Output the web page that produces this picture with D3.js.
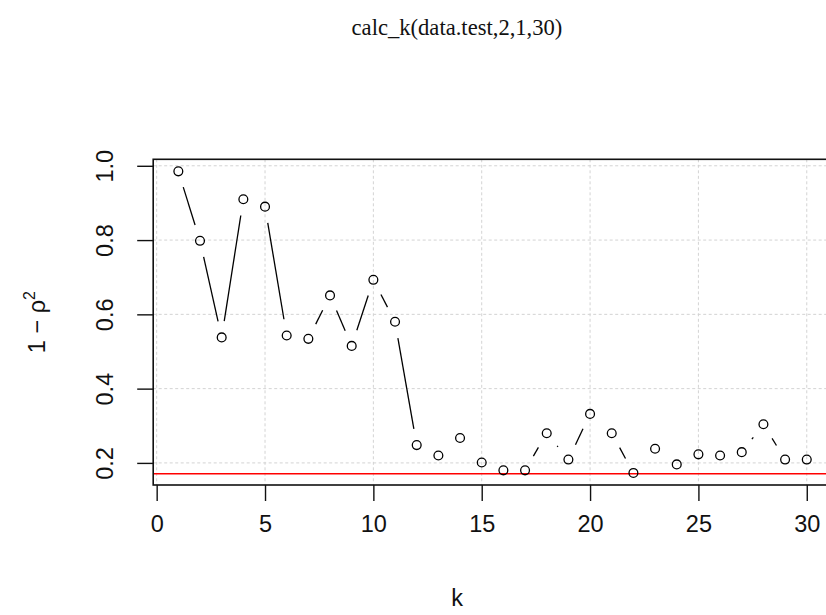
<!DOCTYPE html>
<html>
<head>
<meta charset="utf-8">
<script src="https://cdn.jsdelivr.net/npm/d3@7"></script>
<style>
  body { margin: 0; background: #fff; }
  svg { display: block; }
</style>
</head>
<body>
<svg id="chart" width="826" height="615"></svg>
<script>
// values (k = 1..30)
var ks = [1, 2, 3, 4, 5, 6, 7, 8, 9, 10, 11, 12, 13, 14, 15,
          16, 17, 18, 19, 20, 21, 22, 23, 24, 25, 26, 27, 28, 29, 30];
var values = [0.985, 0.798, 0.538, 0.910, 0.890, 0.543, 0.534, 0.651, 0.515, 0.693,
              0.580, 0.248, 0.220, 0.267, 0.201, 0.180, 0.180, 0.280, 0.209, 0.332,
              0.280, 0.173, 0.238, 0.196, 0.223, 0.220, 0.229, 0.304, 0.209, 0.209];
var refLine = 0.171;
var xTicks = [0, 5, 10, 15, 20, 25, 30];
var yTicks = [0.2, 0.4, 0.6, 0.8, 1.0];
var title = "calc_k(data.test,2,1,30)";

(function () {
    var svg = d3.select("#chart");
    var pLeft = 153.2, pRight = 831.9, pTop = 159.3, pBottom = 485;
    var sans = "'Liberation Sans', Arial, sans-serif";

    // R style 4% range extension
    function extend(lo, hi) {
        var d = (hi - lo) * 0.04;
        return [lo - d, hi + d];
    }
    var x = d3.scaleLinear().domain(extend(d3.min(ks), d3.max(ks))).range([pLeft, pRight]);
    var y = d3.scaleLinear().domain(extend(d3.min(values), d3.max(values))).range([pBottom, pTop]);

    svg.append("defs").append("clipPath").attr("id", "plotclip")
        .append("rect")
        .attr("x", pLeft).attr("y", pTop)
        .attr("width", pRight - pLeft).attr("height", pBottom - pTop);

    var plot = svg.append("g").attr("clip-path", "url(#plotclip)");

    // grid
    plot.selectAll("line.vgrid").data(xTicks).enter().append("line")
        .attr("class", "vgrid")
        .attr("x1", function (d) { return x(d); }).attr("x2", function (d) { return x(d); })
        .attr("y1", pTop).attr("y2", pBottom)
        .attr("stroke", "#d3d3d3").attr("stroke-width", 1)
        .attr("stroke-dasharray", "3,2.5");
    plot.selectAll("line.hgrid").data(yTicks).enter().append("line")
        .attr("class", "hgrid")
        .attr("x1", pLeft).attr("x2", pRight)
        .attr("y1", function (d) { return y(d); }).attr("y2", function (d) { return y(d); })
        .attr("stroke", "#d3d3d3").attr("stroke-width", 1)
        .attr("stroke-dasharray", "3,2.5");

    // reference line
    plot.append("line")
        .attr("x1", pLeft).attr("x2", pRight)
        .attr("y1", y(refLine)).attr("y2", y(refLine))
        .attr("stroke", "#ff0000").attr("stroke-width", 1.6);

    // type = "b": segments with a gap around each point
    var gap = 16.5;
    var pts = ks.map(function (k, i) { return [x(k), y(values[i])]; });
    var segs = [];
    for (var i = 0; i < pts.length - 1; i++) {
        var p = pts[i], q = pts[i + 1];
        var dx = q[0] - p[0], dy = q[1] - p[1];
        var len = Math.sqrt(dx * dx + dy * dy);
        if (len > 2 * gap) {
            var ux = dx / len, uy = dy / len;
            segs.push([p[0] + ux * gap, p[1] + uy * gap, q[0] - ux * gap, q[1] - uy * gap]);
        }
    }
    plot.selectAll("line.seg").data(segs).enter().append("line")
        .attr("class", "seg")
        .attr("x1", function (d) { return d[0]; }).attr("y1", function (d) { return d[1]; })
        .attr("x2", function (d) { return d[2]; }).attr("y2", function (d) { return d[3]; })
        .attr("stroke", "#000").attr("stroke-width", 1.3);

    plot.selectAll("circle.pt").data(values).enter().append("circle")
        .attr("class", "pt")
        .attr("cx", function (d, i) { return x(ks[i]); })
        .attr("cy", function (d) { return y(d); })
        .attr("r", 4.4)
        .attr("fill", "none").attr("stroke", "#000").attr("stroke-width", 1.3);

    // box
    svg.append("rect")
        .attr("x", pLeft).attr("y", pTop)
        .attr("width", pRight - pLeft).attr("height", pBottom - pTop)
        .attr("fill", "none").attr("stroke", "#111").attr("stroke-width", 1.6);

    // axes
    var xAxis = svg.append("g").attr("transform", "translate(0," + pBottom + ")")
        .call(d3.axisBottom(x).tickValues(xTicks).tickSize(16).tickSizeOuter(0).tickPadding(14));
    var yAxis = svg.append("g").attr("transform", "translate(" + pLeft + ",0)")
        .call(d3.axisLeft(y).tickValues(yTicks).tickSize(16).tickSizeOuter(0)
            .tickFormat(d3.format(".1f")));

    [xAxis, yAxis].forEach(function (g) {
        g.select(".domain").remove();
        g.selectAll(".tick line").attr("stroke", "#111").attr("stroke-width", 1.4);
        g.selectAll("text").attr("fill", "#111")
            .style("font-family", sans)
            .style("font-size", "23.5px");
    });

    yAxis.selectAll(".tick text")
        .attr("x", null).attr("dy", null)
        .attr("text-anchor", "middle")
        .attr("transform", "translate(-40,0) rotate(-90)");

    // labels
    svg.append("text")
        .attr("x", 457).attr("y", 35)
        .attr("text-anchor", "middle")
        .style("font-family", "'Liberation Serif', 'Times New Roman', serif")
        .style("font-size", "22.6px")
        .attr("fill", "#111")
        .text(title);

    svg.append("text")
        .attr("x", 457).attr("y", 606)
        .attr("text-anchor", "middle")
        .style("font-family", sans)
        .style("font-size", "23.5px")
        .attr("fill", "#111")
        .text("k");

    var ylab = svg.append("text")
        .attr("transform", "translate(45," + ((pTop + pBottom) / 2) + ") rotate(-90)")
        .attr("text-anchor", "middle")
        .style("font-family", sans)
        .style("font-size", "23.5px")
        .attr("fill", "#111");
    ylab.append("tspan").text("1 \u2212 \u03c1");
    ylab.append("tspan").attr("dy", -10).style("font-size", "16px").text("2");
})();
</script>
</body>
</html>
